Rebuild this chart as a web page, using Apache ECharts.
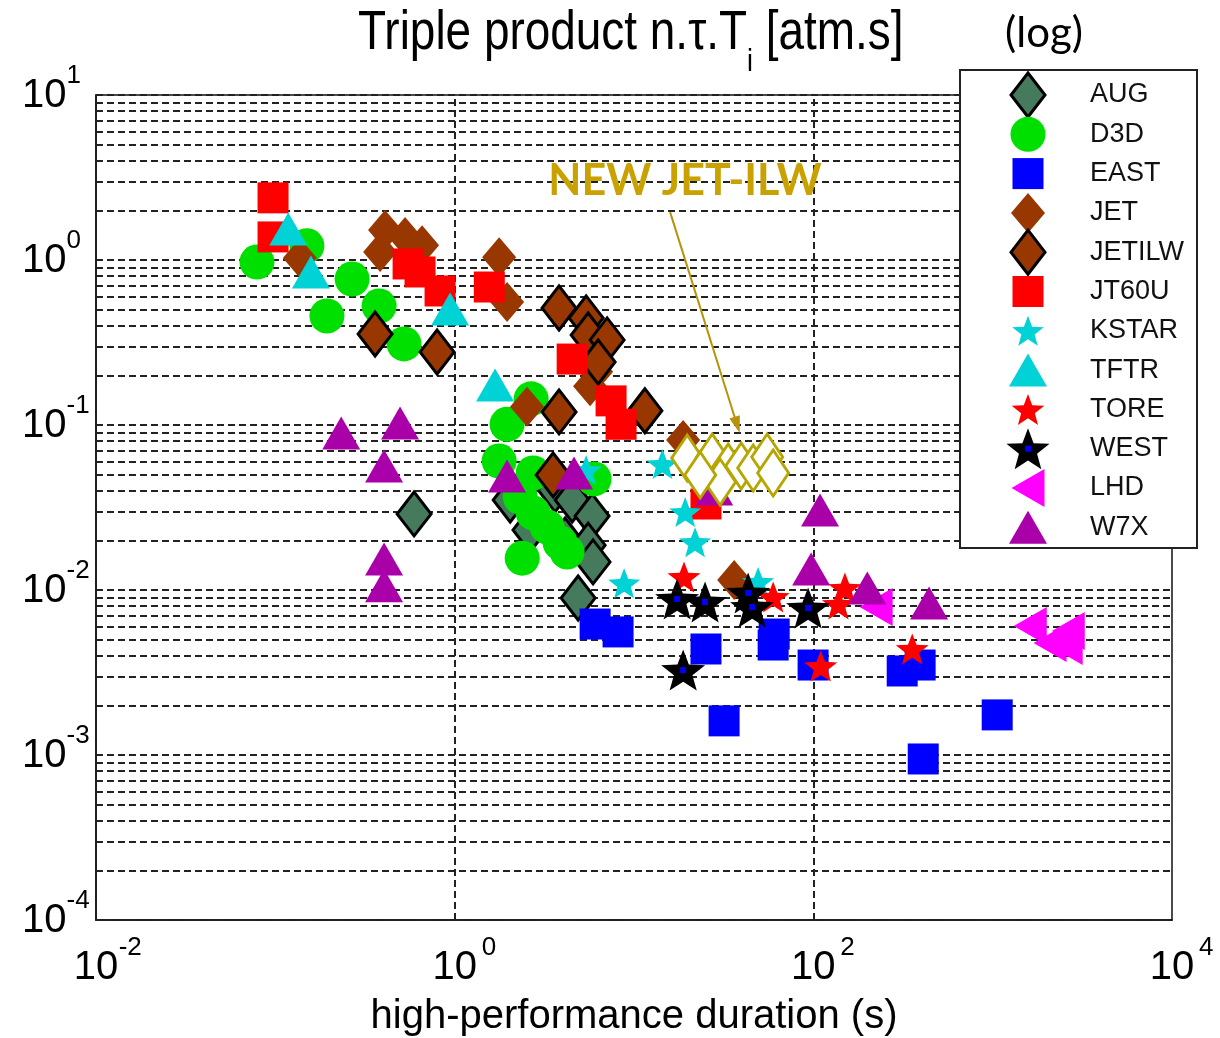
<!DOCTYPE html>
<html>
<head>
<meta charset="utf-8">
<title>Triple product vs high-performance duration</title>
<script src="https://cdn.jsdelivr.net/npm/echarts@6/dist/echarts.min.js"></script>
<style>
html, body { margin: 0; padding: 0; background: #fff; }
#chart { width: 1220px; height: 1038px; }
</style>
</head>
<body>
<div id="chart"></div>
<script>
// Devices, in drawing / legend order
const devices = ['AUG', 'D3D', 'EAST', 'JET', 'JETILW', 'JT60U', 'KSTAR', 'TFTR', 'TORE', 'WEST', 'LHD', 'W7X'];

// Points as [high-performance duration (s), triple product n.tau.Ti (atm.s)]
const AUG = [[0.594, 0.0289], [2.04, 0.0351], [2.63, 0.0231], [3.63, 0.0404], [4.52, 0.0351], [4.13, 0.0201],
  [5.84, 0.0281], [5.55, 0.0187], [5.91, 0.0148], [4.88, 0.00894]];
const D3D = [[0.079, 0.972], [0.150, 1.22], [0.268, 0.767], [0.194, 0.458], [0.379, 0.526], [0.522, 0.310],
  [2.67, 0.144], [1.96, 0.101], [1.77, 0.0605], [2.74, 0.0512], [5.99, 0.0471], [2.32, 0.0366], [2.74, 0.0293],
  [3.28, 0.0241], [3.87, 0.0193], [4.24, 0.0170], [2.38, 0.0156]];
const EAST = [[6.07, 0.00622], [8.15, 0.00557], [25.2, 0.00439], [31.8, 0.00161], [60.5, 0.00541], [59.7, 0.00464],
  [99.7, 0.00351], [313, 0.00323], [394, 0.00351], [1060, 0.00175], [410, 0.000946]];
const JET = [[0.137, 1.03], [0.409, 1.52], [0.529, 1.38], [0.658, 1.23], [0.384, 1.12], [1.77, 1.04], [1.96, 0.556],
  [2.53, 0.129], [6.15, 0.210], [5.69, 0.172], [18.8, 0.0811], [36.2, 0.0115]];
const JETILW = [[0.360, 0.356], [0.798, 0.277], [3.82, 0.512], [5.41, 0.445], [5.55, 0.351], [7.08, 0.328],
  [6.31, 0.241], [3.82, 0.120], [11.5, 0.122], [3.54, 0.0498]];
const JT60U = [[0.0971, 2.38], [0.0971, 1.38], [0.550, 0.946], [0.641, 0.846], [0.829, 0.649], [1.56, 0.686],
  [4.52, 0.251], [7.45, 0.140], [8.47, 0.101], [25.2, 0.0332]];
const KSTAR = [[14.4, 0.058], [19.3, 0.0297], [21.9, 0.0195], [8.81, 0.0110], [49.2, 0.0112], [5.41, 0.0534]];
const TFTR = [[0.118, 1.54], [0.158, 0.846], [0.943, 0.505], [1.68, 0.175]];
const TORE = [[19.0, 0.0120], [59.7, 0.00907], [150, 0.0103], [138, 0.00823], [110, 0.00346], [356, 0.00439]];
const WEST = [[17.4, 0.00882], [24.9, 0.00846], [43.3, 0.0096], [45.6, 0.00789], [93.5, 0.00778], [18.8, 0.00327]];
const LHD = [[224, 0.00789], [1620, 0.00605], [2090, 0.00477], [2640, 0.00564], [2570, 0.00458]];
const W7X = [[0.233, 0.0894], [0.496, 0.103], [0.404, 0.0564], [0.404, 0.0154], [0.404, 0.0106], [1.96, 0.0491],
  [4.63, 0.0512], [28.0, 0.041], [109, 0.0305], [97.2, 0.0134], [200, 0.0103], [442, 0.00834]];
const NEW_JET_ILW = [[19.8, 0.0631], [27.3, 0.064], [33.5, 0.0556], [39.6, 0.0564], [46.2, 0.0549], [55.3, 0.064],
  [59.7, 0.0512], [30.2, 0.0451], [23.4, 0.0498]];

// Annotation arrow (from label to the new JET-ILW cluster), in data units
const arrowFrom = [15.9, 1.95];
const arrowTo = [37.6, 0.1];

// Axis ranges and grid
const xRange = [0.01, 10000];
const yRange = [0.0001, 10];
const yDecades = [-4, -3, -2, -1, 0];
const gridSteps = [1, 2, 3, 4, 5, 6, 7, 8, 9];
const xGridValues = [1, 100];

const sans = "'Liberation Sans',Arial,sans-serif";

// ---- marker styles ---------------------------------------------------------
const styles = {
  AUG:    { shape: 'diamond', size: [34, 44], fill: '#467a5c', stroke: '#000', lw: 3 },
  D3D:    { shape: 'circle', size: [35, 35], fill: '#00e000' },
  EAST:   { shape: 'rect', size: [31, 31], fill: '#0000ff' },
  JET:    { shape: 'diamond', size: [34, 40], fill: '#983800' },
  JETILW: { shape: 'diamond', size: [34, 44], fill: '#983800', stroke: '#000', lw: 3 },
  JT60U:  { shape: 'rect', size: [31, 31], fill: '#ff0000' },
  KSTAR:  { shape: 'star', size: [32, 30], fill: '#00d2d6' },
  TFTR:   { shape: 'triangle', size: [38, 33], fill: '#00d2d6' },
  TORE:   { shape: 'star', size: [33, 31], fill: '#ff0000' },
  WEST:   { shape: 'star', size: [44, 41], fill: '#000000', core: '#0000ff' },
  LHD:    { shape: 'triLeft', size: [38, 33], fill: '#ff00ff' },
  W7X:    { shape: 'triangle', size: [38, 33], fill: '#aa00aa' }
};

function starPts(cx, cy, R, r) {
  const p = [];
  for (let i = 0; i < 10; i++) {
    const a = -Math.PI / 2 + i * Math.PI / 5;
    const rad = i % 2 ? r : R;
    p.push([cx + rad * Math.cos(a), cy + rad * Math.sin(a)]);
  }
  return p;
}
const STAR = 'path://' + starPts(50, 50, 50, 21).map((q, i) => (i ? 'L' : 'M') + q[0].toFixed(2) + ',' + q[1].toFixed(2)).join(' ') + ' Z';
const symbolOf = { diamond: 'diamond', circle: 'circle', rect: 'rect', triangle: 'triangle', triLeft: 'triangle', star: STAR };

// ---- series ---------------------------------------------------------------
function pts(name, data, z) {
  const s = styles[name];
  return {
    name: name, type: 'scatter', data: data, z: z, silent: true,
    symbol: symbolOf[s.shape], symbolSize: s.size, symbolRotate: s.shape === 'triLeft' ? 90 : 0,
    itemStyle: { color: s.fill, opacity: 1, borderColor: s.stroke || s.fill, borderWidth: s.lw || 0 },
    emphasis: { disabled: true }
  };
}

const hLines = [];
yDecades.forEach(e => gridSteps.forEach(k => hLines.push({ yAxis: Number((k * Math.pow(10, e)).toPrecision(3)) })));
hLines.push({ yAxis: yRange[1] });
const vLines = xGridValues.map(v => ({ xAxis: v }));

const series = [
  {
    name: 'grid', type: 'scatter', data: [], z: 1, silent: true,
    markLine: {
      z: 1, silent: true, symbol: ['none', 'none'], animation: false, precision: 8,
      label: { show: false },
      lineStyle: { color: '#222', width: 2, type: [7, 4] },
      emphasis: { disabled: true },
      data: hLines.concat(vLines)
    }
  }
];
const seriesData = { AUG, D3D, EAST, JET, JETILW, JT60U, KSTAR, TFTR, TORE, WEST, LHD, W7X };
devices.forEach((name, i) => {
  series.push(pts(name, seriesData[name], 2 + i));
  if (name === 'WEST') {
    series.push({
      name: 'WEST core', type: 'scatter', data: WEST, z: 2 + i, silent: true,
      symbol: 'rect', symbolSize: 6, itemStyle: { color: styles.WEST.core, opacity: 1 }, emphasis: { disabled: true }
    });
  }
});
series.push({
  name: 'NEW JET-ILW', type: 'scatter', data: NEW_JET_ILW, z: 20, silent: true,
  symbol: 'diamond', symbolSize: [31, 46],
  itemStyle: { color: '#ffffff', opacity: 1, borderColor: '#b5a600', borderWidth: 3 },
  emphasis: { disabled: true },
  markLine: {
    z: 21, silent: true, animation: false, precision: 8,
    symbol: ['none', 'triangle'], symbolSize: [11, 17],
    label: { show: false },
    lineStyle: { color: '#b8920a', width: 2, type: 'solid' },
    emphasis: { disabled: true },
    data: [[{ coord: arrowFrom }, { coord: arrowTo }]]
  }
});

// ---- legend (drawn as a boxed key beside the plot) ---------------------------
const key = { x: 960, y: 70, w: 237, h: 478, row0: 95, rowGap: 39.3, iconX: 1028, textX: 1090 };

function keyShape(s, cx, cy) {
  const [w, h] = s.size;
  const style = { fill: s.fill, stroke: s.stroke || null, lineWidth: s.lw || 0 };
  let points;
  switch (s.shape) {
    case 'circle':
      return { type: 'circle', z: 31, silent: true, shape: { cx: cx, cy: cy, r: w / 2 }, style: style };
    case 'diamond': points = [[cx, cy - h / 2], [cx + w / 2, cy], [cx, cy + h / 2], [cx - w / 2, cy]]; break;
    case 'rect': points = [[cx - w / 2, cy - h / 2], [cx + w / 2, cy - h / 2], [cx + w / 2, cy + h / 2], [cx - w / 2, cy + h / 2]]; break;
    case 'triangle': points = [[cx, cy - h / 2], [cx + w / 2, cy + h / 2], [cx - w / 2, cy + h / 2]]; break;
    case 'triLeft': points = [[cx - h / 2, cy], [cx + h / 2, cy - w / 2], [cx + h / 2, cy + w / 2]]; break;
    case 'star': { const R = h / 1.809; points = starPts(cx, cy - h / 2 + R, R, R * 0.42); break; }
  }
  return { type: 'polygon', z: 31, silent: true, shape: { points: points }, style: style };
}

const keyElements = [
  { type: 'rect', z: 30, silent: true, shape: { x: key.x, y: key.y, width: key.w, height: key.h },
    style: { fill: '#ffffff', stroke: '#222', lineWidth: 2 } }
];
devices.forEach((name, i) => {
  const cy = key.row0 + i * key.rowGap;
  const s = styles[name];
  keyElements.push(keyShape(s, key.iconX, cy));
  if (s.core) {
    keyElements.push({ type: 'rect', z: 32, silent: true, shape: { x: key.iconX - 3, y: cy - 3, width: 6, height: 6 }, style: { fill: s.core } });
  }
  keyElements.push({ type: 'text', z: 31, silent: true, x: key.textX, y: cy,
    style: { text: name, font: '27px ' + sans, fill: '#111', align: 'left', verticalAlign: 'middle' } });
});

// ---- axes -----------------------------------------------------------------
function expOf(v) { return Math.round(Math.log10(v)); }
// "10" with the exponent raised beside it
function tickRich(lineHeight, padTop) {
  return {
    p: { width: 24 },
    b: { fontFamily: sans, fontSize: 40, lineHeight: lineHeight, padding: [padTop, 0, 0, 0], verticalAlign: 'top', color: '#000' },
    s: { fontFamily: sans, fontSize: 26, lineHeight: 26, width: 24, verticalAlign: 'top', color: '#000' }
  };
}

const option = {
  animation: false,
  backgroundColor: '#ffffff',
  grid: { left: 96, right: 48, top: 95, bottom: 118, containLabel: false, outerBoundsMode: 'none',
    show: true, borderColor: '#111', borderWidth: 1.5, backgroundColor: 'transparent' },
  xAxis: {
    type: 'log', logBase: 10, min: xRange[0], max: xRange[1],
    name: 'high-performance duration (s)', nameLocation: 'middle', nameGap: 77, nameMoveOverlap: false,
    nameTextStyle: { fontFamily: sans, fontSize: 40, color: '#000' },
    axisLine: { show: true, lineStyle: { color: '#111', width: 1.5 } },
    axisTick: { show: false }, splitLine: { show: false }, minorTick: { show: false },
    axisLabel: {
      show: true, margin: 15, color: '#000', showMinLabel: true, showMaxLabel: true,
      formatter: v => { const k = expOf(v); return k % 2 === 0 ? `{p|}{b|10}{s|${k}}` : ''; },
      rich: tickRich(40, 13)
    }
  },
  yAxis: {
    type: 'log', logBase: 10, min: yRange[0], max: yRange[1],
    axisLine: { show: true, lineStyle: { color: '#111', width: 1.5 } },
    axisTick: { show: false }, splitLine: { show: false }, minorTick: { show: false },
    axisLabel: {
      show: true, margin: 74, align: 'left', color: '#000', showMinLabel: true, showMaxLabel: true,
      formatter: v => `{b|10}{s|${expOf(v)}}`,
      rich: tickRich(64, 13)
    }
  },
  graphic: [
    // title, condensed horizontally like the axis lettering
    { type: 'text', z: 5, silent: true, x: 358, y: 6, scaleX: 0.835,
      style: {
        text: '{t|Triple product n.τ.T}{i|i}{t| [atm.s]}', align: 'left', verticalAlign: 'top',
        rich: {
          t: { font: '55px ' + sans, lineHeight: 60, fill: '#000', verticalAlign: 'top' },
          i: { font: '32px ' + sans, lineHeight: 32, fill: '#000', verticalAlign: 'top', padding: [40, 0, 0, 0] }
        }
      } },
    { type: 'text', z: 5, silent: true, x: 1044, y: 33,
      style: { text: '(log)', font: "42px Lato, 'Open Sans', sans-serif", fill: '#000', align: 'center', verticalAlign: 'middle' } },
    // white backing behind the annotation label
    { type: 'rect', z: 1, silent: true, shape: { x: 535, y: 150, width: 300, height: 62 }, style: { fill: '#ffffff' } },
    { type: 'text', z: 1, z2: 10, silent: true, x: 685, y: 181,
      style: { text: 'NEW JET-ILW', font: "bold 43px Lato, 'Open Sans', sans-serif", fill: '#c9a100', align: 'center', verticalAlign: 'middle' } }
  ].concat(keyElements),
  series: series
};

const chart = echarts.init(document.getElementById('chart'), null, { renderer: 'canvas' });
chart.setOption(option);
</script>
</body>
</html>
